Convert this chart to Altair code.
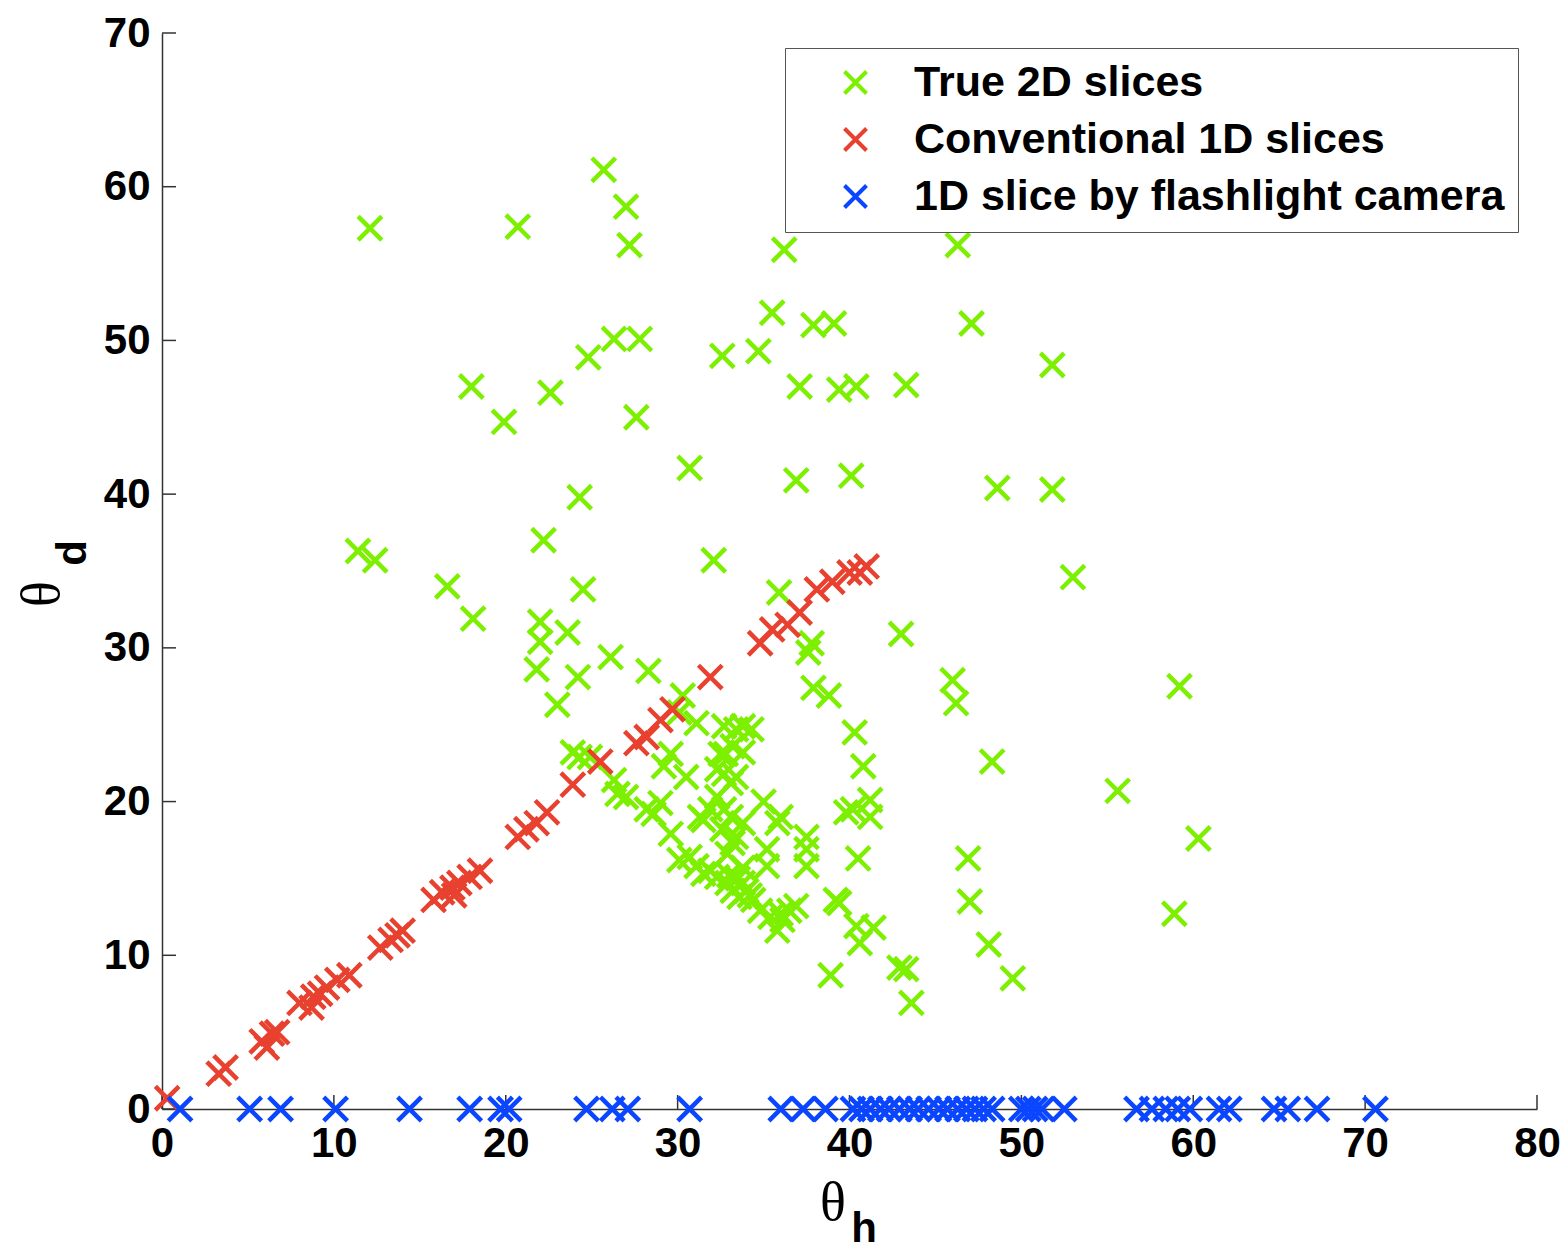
import altair as alt
import pandas as pd

# ---- data ----
green_x = [12.1, 25.7, 27.0, 27.2, 20.7, 26.3, 27.8, 24.8, 32.6, 34.7, 36.2, 35.5, 37.9, 39.1, 37.1, 39.4,
           40.4, 43.3, 46.3, 47.1, 51.8, 18.0, 19.9, 22.6, 27.6, 30.7, 24.3, 36.9, 40.1, 48.6, 51.8, 53.0,
           11.4, 12.4, 22.2, 16.6, 18.1, 24.5, 32.1, 35.9, 22.0, 22.0, 23.6, 21.8, 24.2, 26.1, 23.0, 28.3,
           37.8, 37.6, 37.9, 38.8, 43.0, 46.0, 46.2, 59.2, 40.3, 40.8, 48.3, 55.6, 60.3, 58.9, 46.9, 47.0,
           40.5, 48.1, 49.5, 38.9, 42.9, 43.3, 43.6, 40.2, 41.2, 41.2, 39.8, 39.2, 39.4, 40.4, 41.4, 40.6,
           23.9, 24.3, 24.9, 26.3, 26.5, 27.0, 28.2, 28.6, 29.0, 29.2, 29.6, 30.5, 30.3, 31.1, 30.1, 29.6,
           30.1, 30.7, 31.1, 31.5, 31.9, 32.3, 32.9, 33.2, 33.6, 32.9, 33.2, 31.5, 31.9, 32.3, 32.7, 33.1,
           32.3, 32.7, 33.1, 33.4, 32.5, 32.8, 33.2, 32.7, 33.4, 33.8, 34.3, 33.8, 33.8, 33.4, 35.0, 36.0,
           35.8, 37.5, 37.5, 37.5, 35.2, 35.2, 33.8, 33.8, 34.4, 34.8, 35.4, 35.8, 36.1, 36.5, 36.9, 36.0,
           34.0, 34.2, 33.0, 33.5, 31.3, 32.6]
green_y = [57.3, 61.1, 58.7, 56.2, 57.4, 50.1, 50.1, 48.9, 49.0, 49.3, 55.9, 51.8, 51.0, 51.1, 47.0, 46.8,
           47.0, 47.1, 56.2, 51.1, 48.4, 47.0, 44.7, 46.6, 45.0, 41.7, 39.8, 40.9, 41.2, 40.4, 40.3, 34.6,
           36.3, 35.7, 37.0, 34.0, 31.9, 33.8, 35.7, 33.6, 31.7, 30.4, 31.0, 28.6, 28.1, 29.4, 26.3, 28.5,
           30.3, 29.7, 27.4, 26.9, 30.9, 27.9, 26.4, 27.5, 24.5, 22.3, 22.6, 20.7, 17.6, 12.7, 16.3, 13.5,
           16.3, 10.7, 8.5, 8.7, 9.2, 9.1, 6.9, 19.5, 20.1, 19.0, 19.3, 13.6, 13.4, 11.9, 11.8, 10.8,
           23.2, 22.9, 22.9, 21.4, 20.5, 20.3, 19.5, 19.2, 19.9, 22.3, 23.1, 21.6, 26.9, 25.1, 25.8, 17.9,
           16.2, 16.4, 15.8, 15.3, 15.5, 15.1, 14.7, 14.2, 13.8, 16.6, 17.3, 18.8, 19.5, 20.3, 19.5, 19.0,
           22.1, 21.8, 21.2, 21.6, 23.1, 23.1, 23.6, 24.9, 24.7, 24.9, 24.7, 23.2, 18.6, 17.7, 20.0, 19.0,
           18.6, 17.7, 16.9, 15.8, 16.9, 15.8, 15.7, 14.7, 13.6, 12.9, 12.5, 11.6, 12.3, 12.9, 13.2, 12.7,
           14.2, 13.9, 15.2, 15.0, 19.0, 18.2]

red_x = [0.3, 3.3, 3.7, 5.8, 6.1, 6.4, 6.7, 8.0, 8.7, 8.8, 9.2, 9.6, 10.2, 10.9, 12.7, 13.3, 13.7, 14.0,
         15.8, 16.3, 16.9, 17.0, 17.3, 17.9, 18.5, 20.7, 21.2, 21.8, 22.4, 23.9, 25.5, 27.6, 28.2, 29.0,
         29.7, 31.9, 34.8, 35.5, 36.4, 37.1, 38.1, 39.0, 40.0, 40.6, 41.0]
red_y = [0.7, 2.3, 2.7, 4.4, 4.0, 4.9, 5.0, 6.9, 6.6, 7.3, 7.5, 7.9, 8.4, 8.7, 10.5, 11.0, 11.3, 11.6,
         13.6, 14.1, 14.4, 13.9, 14.7, 15.1, 15.5, 17.7, 18.2, 18.6, 19.3, 21.1, 22.6, 23.8, 24.2, 25.3,
         26.0, 28.1, 30.3, 31.2, 31.5, 32.3, 33.8, 34.3, 34.9, 34.9, 35.3]

blue_x = [1.05, 5.1, 6.9, 10.1, 14.4, 17.9, 19.7, 20.2, 24.7, 26.2, 27.1, 30.7, 36.0, 37.3, 38.6,
          40.2, 40.7, 41.2, 41.8, 42.3, 42.9, 43.5, 44.0, 44.6, 45.2, 45.7, 46.3, 46.8, 47.3, 47.8, 48.3,
          50.0, 50.4, 50.8, 51.2, 52.5, 56.7, 57.6, 58.4, 59.1, 59.8, 61.5, 62.1, 64.7, 65.5, 67.2, 70.6]
blue_y = [0.0] * len(blue_x)

series = ["True 2D slices", "Conventional 1D slices", "1D slice by flashlight camera"]
colors = ["#7CF000", "#E8412F", "#0A46FF"]

x_ticks = [0, 10, 20, 30, 40, 50, 60, 70, 80]
y_ticks = [0, 10, 20, 30, 40, 50, 60, 70]

# ---- build table ----
rows = []
for xs, ys, name in [(green_x, green_y, series[0]), (red_x, red_y, series[1]), (blue_x, blue_y, series[2])]:
    for a, b in zip(xs, ys):
        rows.append({"th": a, "td": b, "series": name})
df = pd.DataFrame(rows)
df["order"] = range(len(df))

XPATH = "M-1,-1L1,1M1,-1L-1,1"
W, H = 1375, 1076
FONT = "Liberation Sans"

points = alt.Chart(df).mark_point(
    shape=XPATH, filled=False, strokeWidth=4.5, size=560, opacity=1
).encode(
    x=alt.X("th:Q", scale=alt.Scale(domain=[0, 80], nice=False, zero=False),
            axis=alt.Axis(values=x_ticks, title=None, grid=False, ticks=False, labelFont=FONT,
                          labelFontSize=42, labelFontWeight="bold", labelColor="black",
                          labelPadding=14, domainColor="#333", domainWidth=1.5, labelFlush=False)),
    y=alt.Y("td:Q", scale=alt.Scale(domain=[0, 70], nice=False, zero=False),
            axis=alt.Axis(values=y_ticks, title=None, grid=False, ticks=False, labelFont=FONT,
                          labelFontSize=42, labelFontWeight="bold", labelColor="black",
                          labelPadding=12, domainColor="#333", domainWidth=1.5, labelFlush=False)),
    color=alt.Color("series:N", scale=alt.Scale(domain=series, range=colors),
                    legend=alt.Legend(orient="none", legendX=623, legendY=15, title=None,
                                      labelFont=FONT, labelFontSize=43, labelFontWeight="bold",
                                      labelColor="black", symbolType=XPATH, symbolSize=484,
                                      symbolStrokeWidth=4, strokeColor="#555", fillColor="white",
                                      padding=13, rowPadding=13, symbolOffset=36, labelOffset=37,
                                      labelLimit=800)),
    order=alt.Order("order:Q"),
)

xtick_df = pd.DataFrame({"v": x_ticks})
ytick_df = pd.DataFrame({"v": y_ticks})
xticks = alt.Chart(xtick_df).mark_rule(color="#333", strokeWidth=1.5).encode(
    x="v:Q", y=alt.value(H), y2=alt.value(H - 14))
yticks = alt.Chart(ytick_df).mark_rule(color="#333", strokeWidth=1.5).encode(
    y="v:Q", x=alt.value(0), x2=alt.value(14))

one = alt.Data(values=[{"a": 1}])
theta_h = alt.Chart(one).mark_text(font="Liberation Serif", fontSize=54, color="black").encode(
    x=alt.value(671), y=alt.value(1171), text=alt.value("θ"))
sub_h = alt.Chart(one).mark_text(font=FONT, fontSize=42, fontWeight="bold", color="black").encode(
    x=alt.value(702), y=alt.value(1196), text=alt.value("h"))
theta_d = alt.Chart(one).mark_text(font="Liberation Serif", fontSize=54, color="black", angle=270).encode(
    x=alt.value(-119), y=alt.value(561), text=alt.value("θ"))
sub_d = alt.Chart(one).mark_text(font=FONT, fontSize=42, fontWeight="bold", color="black", angle=270).encode(
    x=alt.value(-89), y=alt.value(520), text=alt.value("d"))

chart = alt.layer(xticks, yticks, points, theta_h, sub_h, theta_d, sub_d).properties(
    width=W, height=H,
    autosize=alt.AutoSizeParams(type="none"),
    padding={"left": 162, "top": 33, "right": 29, "bottom": 143},
    background="white",
).configure_view(stroke=None)

chart.save("out.html", embed_options={"renderer": "svg", "actions": False})
